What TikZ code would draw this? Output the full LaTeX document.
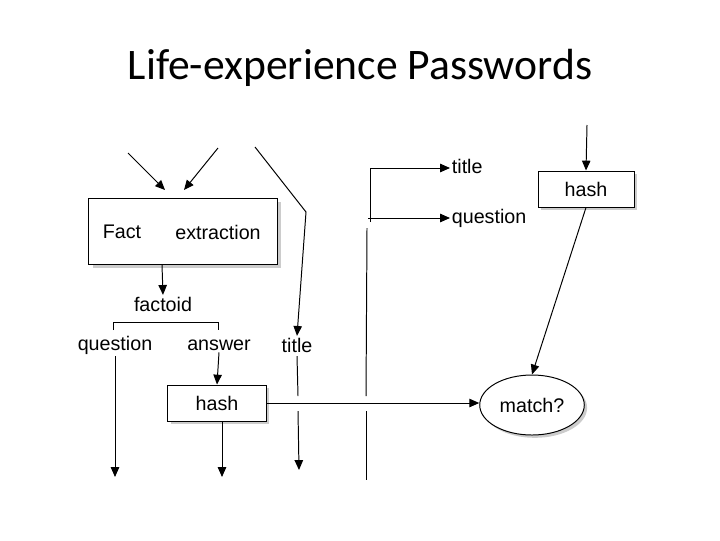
\documentclass[tikz,border=0pt]{standalone}
\usepackage{fontspec}
\setmainfont{Liberation Sans}
\newfontfamily\titlefont{Carlito}
\usetikzlibrary{shapes.geometric,arrows.meta,shadows}
\begin{document}
\begin{tikzpicture}
            [x=0.025cm,y=-0.025cm,thick,>={Triangle[length=7pt,width=6pt]},
             box/.style={draw,fill=white,minimum width=#1,minimum height=0.9cm,
               inner sep=0pt,font=\fontsize{14}{16}\selectfont,
               drop shadow={opacity=0.4,shadow xshift=2pt,shadow yshift=-2pt}},
             lbl/.style={font=\fontsize{14}{16}\selectfont,inner sep=1pt},
             line width=0.7pt]
            \useasboundingbox (0,0) rectangle (720,540);
            \node[font=\titlefont\fontsize{31}{34}\selectfont] (heading) at (360,68) {Life-experience Passwords};
            %
            \node[draw,fill=white,minimum width=4.7cm,minimum height=1.65cm,
              drop shadow={opacity=0.4,shadow xshift=3pt,shadow yshift=-3pt}] (fact) at (183,231) {};
            \node[lbl] (factw) at (122,232) {Fact};
            \node[lbl] (extr) at (218,232) {extraction};
            \node[lbl] (factoid) at (163,304) {factoid};
            \node[lbl] (question) at (115,345) {question};
            \node[lbl] (answer) at (219,345) {answer};
            \node[lbl] (title) at (297,345) {title};
            \node[box=2.45cm] (hashA) at (217,403) {hash};
            \node[box=2.4cm] (hashB) at (586,189) {hash};
            \node[draw,ellipse,fill=white,minimum width=2.5cm,minimum height=1.5cm,
              font=\fontsize{14}{16}\selectfont,
              drop shadow={opacity=0.4,shadow xshift=2pt,shadow yshift=-2pt}] (match) at (532,405) {match?};
            \node[lbl,anchor=west] (titleR) at (450,166) {title};
            \node[lbl,anchor=west] (questionR) at (450,218) {question};
            %
            \coordinate (inA) at (128,153);
            \coordinate (inB) at (218,148);
            \coordinate (inC) at (255,147);
            \coordinate (bend) at (306,212);
            \coordinate (inD) at (587,125);
            \draw[->] (inA) -- (165,190);
            \draw[->] (inB) -- (184,190);
            \draw[->] (inC) -- (bend) -- (title.north);
            \draw[->] (inD) -- (hashB.north);
            \draw[->] (162,265) -- (factoid.north);
            \draw (113,330) -- (113,322) -- (218,322) -- (218,330);
            \draw[->] (answer.south) -- (hashA.north);
            \draw[->] (hashA.south) ++(5,0) -- (222,477);
            \draw[->] (question.south) -- (115,477);
            \draw (title.south) ++(0,2) -- (298,396);
            \draw[->] (298,411) -- (299,470);
            \draw[->] (hashA.east) -- (match.west |- hashA.east);
            \draw[->] (370,222) -- (370,168) -- (titleR.west |- 0,168);
            \draw[->] (368,218) -- (questionR.west |- 0,218);
            \draw (367,228) -- (366,396);
            \draw (366,411) -- (366,480);
            \draw[->] (hashB.south) -- (match.north);
        \end{tikzpicture}
\end{document}
